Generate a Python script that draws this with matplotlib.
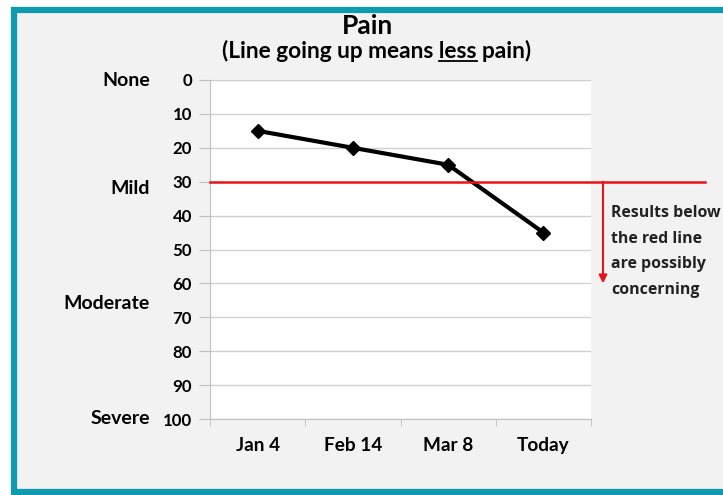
import matplotlib
matplotlib.use("Agg")
import matplotlib.pyplot as plt
from matplotlib.patches import Rectangle
import numpy as np

categories = ["Jan 4", "Feb 14", "Mar 8", "Today"]
pain = [15, 20, 25, 45]
yticks = list(range(0, 101, 10))
severity_labels = ["None", "Mild", "Moderate", "Severe"]
severity_pos = [0, 32, 66, 100]
threshold = 30
arrow_end = 60

W, H = 723, 495
fig = plt.figure(figsize=(W/100, H/100), dpi=100)
fig.patch.set_facecolor("white")

teal = "#0e9bb0"
bg = Rectangle((14/W, 1 - 492/H), (W + 20 - 14)/W, (492 - 10)/H,
               transform=fig.transFigure, facecolor="#f2f2f2",
               edgecolor=teal, linewidth=4.5, zorder=-10)
fig.patches.append(bg)

FONT = ["Lato", "DejaVu Sans"]
cond = dict(family=FONT, fontweight="bold")

ax = fig.add_axes([210/W, 1 - 419/H, (591 - 210)/W, (419 - 80)/H])
ax.set_zorder(2)
ax.set_facecolor("white")
x = np.arange(len(categories))
ax.set_xlim(-0.5, len(categories) - 0.5)
ax.set_ylim(100, 0)
ax.set_yticks(yticks)
ax.set_yticklabels([str(v) for v in yticks], fontsize=12.2, **cond)
ax.set_xticks(x)
ax.set_xticklabels(categories, fontsize=13.7, **cond)
ax.set_xticks(np.arange(len(categories) + 1) - 0.5, minor=True)
ax.tick_params(axis="x", which="major", length=0, pad=13)
ax.tick_params(axis="x", which="minor", length=5, color="#bfbfbf", direction="out")
ax.tick_params(axis="y", length=8, color="#bfbfbf", pad=5)
ax.grid(axis="y", color="#d0d0d0", linewidth=1)
ax.set_axisbelow(True)
for s in ["top", "right"]:
    ax.spines[s].set_visible(False)
for s in ["left", "bottom"]:
    ax.spines[s].set_color("#bfbfbf")

ax.plot(x, pain, color="black", linewidth=3, marker="D", markersize=7, zorder=5)

unit = (591 - 210) / 4.0
ax.plot([-0.5, 3.5 + (705 - 591) / unit], [threshold, threshold], color="#e8141c",
        linewidth=1.8, clip_on=False, zorder=6)
ax_x = 3.5 + (603 - 591) / unit
ax.annotate("", xy=(ax_x, arrow_end), xytext=(ax_x, threshold),
            arrowprops=dict(arrowstyle="-|>", color="#e8141c", lw=1.5,
                            mutation_scale=12, shrinkA=0, shrinkB=0),
            annotation_clip=False)
fig.text(611/W, 1 - 205/H, "Results below\nthe red line\nare possibly\nconcerning",
         fontsize=11.4, family=["Open Sans", "DejaVu Sans"], fontweight="bold",
         va="top", ha="left", linespacing=1.8, color="#222222", zorder=3)

for lab, pos in zip(severity_labels, severity_pos):
    ax.text(-0.5 - (210 - 150) / unit, pos, lab, ha="right", va="center",
            fontsize=14, clip_on=False, **cond)

fig.text(368/W, 1 - 26/H, "Pain", ha="center", va="center", fontsize=19, **cond)
sub = fig.text(377/W, 1 - 51/H, "(Line going up means less pain)", ha="center",
               va="center", fontsize=16.3, **cond)
fig.canvas.draw()
r = fig.canvas.get_renderer()
bb = sub.get_window_extent(r)
pre = fig.text(0, 0, "(Line going up means ", fontsize=16.3, **cond)
word = fig.text(0, 0, "less", fontsize=16.3, **cond)
w_pre = pre.get_window_extent(r).width
w_word = word.get_window_extent(r).width
pre.remove(); word.remove()
x0 = bb.x0 + w_pre
fig.add_artist(plt.Line2D([x0/W, (x0 + w_word)/W], [(bb.y0 + 1)/H, (bb.y0 + 1)/H],
                          color="black", linewidth=1.3, transform=fig.transFigure))

fig.savefig("out.png", dpi=100)
